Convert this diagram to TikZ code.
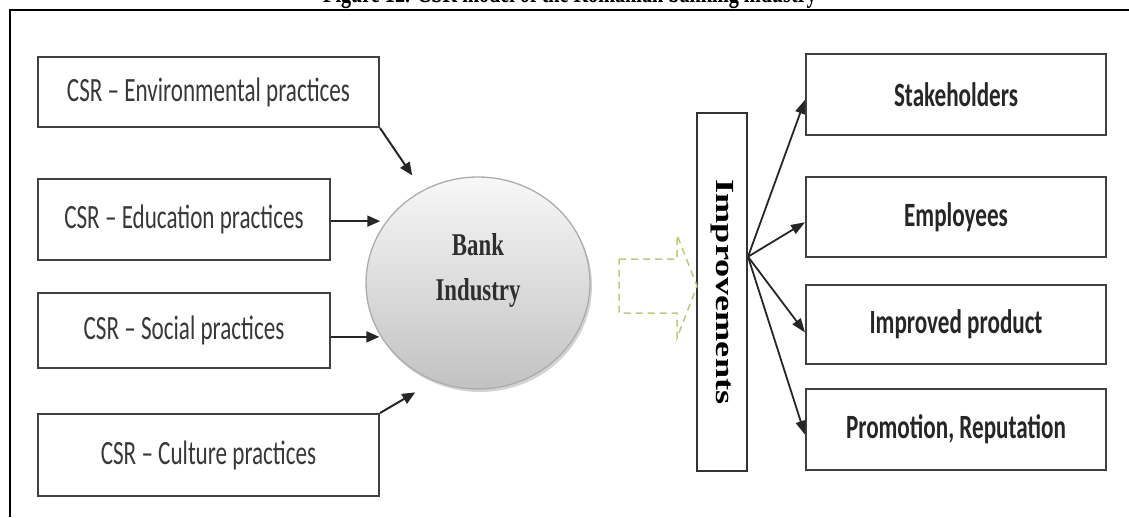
\documentclass[tikz,border=0pt]{standalone}
\usepackage{fontspec}
\usepackage{graphicx}
\setmainfont[FakeStretch=0.72]{Liberation Serif}
\newfontfamily\plainserif{Liberation Serif}
\newfontfamily\calibfont[FakeStretch=0.68]{Carlito}
\usetikzlibrary{arrows.meta,shapes.geometric,shadows,calc}
\definecolor{inkgray}{HTML}{383838}
\definecolor{framegray}{HTML}{404040}
\definecolor{dashgreen}{RGB}{185,205,120}
\begin{document}
\begin{tikzpicture}[x=1pt,y=-1pt,
  practice/.style={draw=framegray, line width=2pt, fill=white, inner sep=0pt,
    font=\calibfont\fontsize{34}{40}\selectfont, text=inkgray},
  outcome/.style={practice, minimum width=300pt,
    font=\calibfont\bfseries\fontsize{34}{40}\selectfont, text=black!85},
  feed/.style={-{Triangle[length=13pt,width=11pt]}, line width=2pt, draw=black!85},
  spread/.style={-{Triangle[length=14pt,width=10pt]}, line width=1.8pt, draw=black!85},
]
\useasboundingbox (0,0) rectangle (1129,517);

% caption and frame
\node[anchor=base, font=\bfseries\fontsize{28}{32}\selectfont] (caption) at (570,2.5)
  {Figure 12. CSR model of the Romanian banking industry};
\draw[line width=1.6pt] (10,517) -- (10,10) -- (1129,10);

% CSR practices
\node[practice, minimum width=341pt, minimum height=70pt] (env) at (208.5,92) {CSR – Environmental practices};
\node[practice, minimum width=292pt, minimum height=81pt] (edu) at (184,219.5) {CSR – Education practices};
\node[practice, minimum width=292pt, minimum height=75pt] (soc) at (184,330.5) {CSR – Social practices};
\node[practice, minimum width=341pt, minimum height=82pt] (cul) at (208.5,455) {CSR – Culture practices};

% bank industry
\node[ellipse, minimum width=224pt, minimum height=212pt, draw=gray!65, line width=1.3pt,
  top color=gray!6, bottom color=gray!48,
  drop shadow={shadow xshift=2pt, shadow yshift=-3pt, opacity=0.35},
  label={[font=\bfseries\fontsize{31.7}{45}\selectfont, align=center, yshift=12.5pt, text=black!82]center:Bank\\Industry}]
  (bank) at (478,283) {};

% improvements bar
\node[draw=black!80, line width=2pt, minimum width=50pt, minimum height=358pt, inner sep=0pt,
  label={[rotate=-90, font=\plainserif\bfseries\fontsize{36.2}{40}\selectfont]center:\scalebox{1}[0.72]{Improvements}}]
  (imp) at (722,292) {};
\coordinate (hub) at ($(imp.north east)!0.402!(imp.south east)$);

% outcomes
\node[outcome, minimum height=81pt] (stake) at (956,94.5) {Stakeholders};
\node[outcome, minimum height=80pt] (emp) at (956,217) {Employees};
\node[outcome, minimum height=79pt] (prod) at (956,324.5) {Improved product};
\node[outcome, minimum height=81pt] (promo) at (956,429.5) {Promotion, Reputation};

% dashed transition arrow
\draw[dashgreen, line width=1.5pt, dash pattern=on 7pt off 5pt]
  (619,259) -- (677,259) -- (677,235) -- (697,286) -- (677,338) -- (677,313) -- (619,313) -- cycle;

% inputs into the bank industry
\draw[feed, shorten >=18pt] (env.south east) -- (bank.121);
\draw[feed, shorten >=6pt] (edu.east |- bank.146) -- (bank.146);
\draw[feed, shorten >=1.5pt] (soc.east |- bank.209) -- (bank.209);
\draw[feed, shorten >=22pt] (cul.north east) -- (bank.246);

% improvements fan-out
\draw[spread] (hub) -- (stake.182);
\draw[spread] (hub) -- (emp.182);
\draw[spread] (hub) -- (prod.183);
\draw[spread] (hub) -- (promo.182);
\end{tikzpicture}
\end{document}
